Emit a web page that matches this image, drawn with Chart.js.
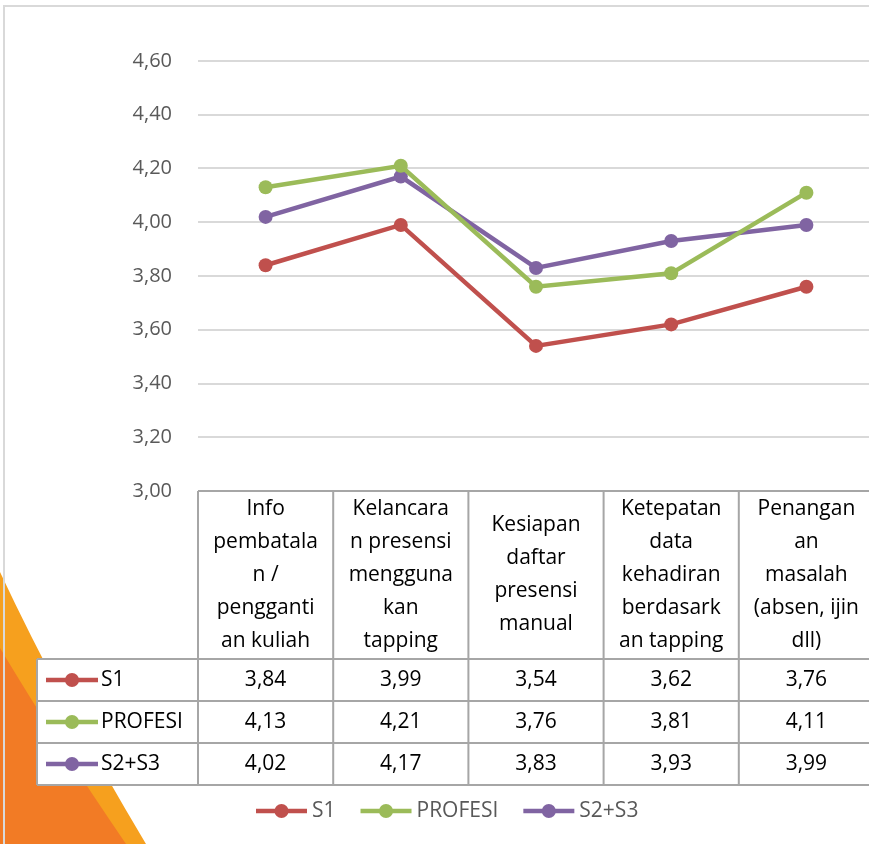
<!DOCTYPE html>
<html>
<head>
<meta charset="utf-8">
<script src="https://cdn.jsdelivr.net/npm/chart.js@4"></script>
<style>
    html, body { margin: 0; padding: 0; background: #fff; overflow: hidden; }
    #wrap { width: 869px; height: 844px; overflow: hidden; }
</style>
</head>
<body>
<div id="wrap"><canvas id="surveyChart" width="874" height="844"></canvas></div>
<script>
// kategori (baris-baris judul kolom tabel, seperti di gambar)
const categories = [
    ['Info', 'pembatala', 'n /', 'pengganti', 'an kuliah'],
    ['Kelancara', 'n presensi', 'mengguna', 'kan', 'tapping'],
    ['Kesiapan', 'daftar', 'presensi', 'manual'],
    ['Ketepatan', 'data', 'kehadiran', 'berdasark', 'an tapping'],
    ['Penangan', 'an', 'masalah', '(absen, ijin', 'dll)']
];
const seriesNames = ['S1', 'PROFESI', 'S2+S3'];
const s1Values = [3.84, 3.99, 3.54, 3.62, 3.76];
const profesiValues = [4.13, 4.21, 3.76, 3.81, 4.11];
const s2s3Values = [4.02, 4.17, 3.83, 3.93, 3.99];
const yTicks = [3.0, 3.2, 3.4, 3.6, 3.8, 4.0, 4.2, 4.4, 4.6];

const seriesColors = ['#C0504D', '#9BBB59', '#8064A2'];
const fmt = v => v.toFixed(2).replace('.', ',');

// latar: putih + hiasan oranye di kiri bawah + bingkai abu-abu
const backgroundPlugin = {
    id: 'background',
    beforeDraw(chart) {
        const ctx = chart.ctx;
        const h = chart.height;
        ctx.save();
        ctx.fillStyle = '#ffffff';
        ctx.fillRect(0, 0, chart.width, h);

        ctx.fillStyle = '#F6A01E';
        ctx.beginPath();
        ctx.moveTo(0, 572);
        ctx.quadraticCurveTo(60, 700, 146, h);
        ctx.lineTo(0, h);
        ctx.closePath();
        ctx.fill();

        ctx.fillStyle = '#F27B25';
        ctx.beginPath();
        ctx.moveTo(0, 648);
        ctx.quadraticCurveTo(55, 740, 126, h);
        ctx.lineTo(0, h);
        ctx.closePath();
        ctx.fill();

        ctx.strokeStyle = '#d9d9d9';
        ctx.lineWidth = 2;
        ctx.beginPath();
        ctx.moveTo(4, h + 5);
        ctx.lineTo(4, 6);
        ctx.lineTo(chart.width + 5, 6);
        ctx.stroke();
        ctx.restore();
    }
};

function drawLegendMark(ctx, x1, x2, y, color) {
    ctx.strokeStyle = color;
    ctx.lineWidth = 4.5;
    ctx.beginPath();
    ctx.moveTo(x1, y);
    ctx.lineTo(x2, y);
    ctx.stroke();
    ctx.fillStyle = color;
    ctx.beginPath();
    ctx.arc((x1 + x2) / 2, y, 7, 0, Math.PI * 2);
    ctx.fill();
}

// tabel data di bawah grafik + legenda bawah
const tablePlugin = {
    id: 'dataTable',
    afterDraw(chart) {
        const ctx = chart.ctx;
        const xs = chart.scales.x;
        const area = chart.chartArea;
        const colW = xs.width / categories.length;
        const top = area.bottom;
        const headerBottom = top + 168;
        const rowH = 42;
        const tableLeft = 37;
        const tableBottom = headerBottom + rowH * seriesNames.length;
        const allValues = [s1Values, profesiValues, s2s3Values];

        ctx.save();
        ctx.fillStyle = '#ffffff';
        ctx.fillRect(tableLeft, headerBottom, area.left - tableLeft, tableBottom - headerBottom);
        ctx.fillRect(area.left, top + 1, area.right - area.left, tableBottom - top);

        ctx.strokeStyle = '#a6a6a6';
        ctx.lineWidth = 2;
        ctx.beginPath();
        ctx.moveTo(area.left, top);
        ctx.lineTo(area.right, top);
        for (let r = 0; r <= seriesNames.length; r++) {
            const y = headerBottom + r * rowH;
            ctx.moveTo(tableLeft, y);
            ctx.lineTo(area.right, y);
        }
        ctx.moveTo(tableLeft, headerBottom);
        ctx.lineTo(tableLeft, tableBottom);
        for (let i = 0; i <= categories.length; i++) {
            const x = area.left + i * colW;
            ctx.moveTo(x, top);
            ctx.lineTo(x, tableBottom);
        }
        ctx.stroke();

        ctx.fillStyle = '#000000';
        ctx.font = "21px 'Open Sans'";
        ctx.textAlign = 'center';
        ctx.textBaseline = 'middle';
        const lineH = 33;
        categories.forEach((lines, i) => {
            const cx = xs.getPixelForValue(i);
            const midY = (top + headerBottom) / 2;
            const startY = midY - (lines.length - 1) * lineH / 2;
            lines.forEach((t, k) => ctx.fillText(t, cx, startY + k * lineH));
        });

        allValues.forEach((vals, r) => {
            const cy = headerBottom + r * rowH + rowH / 2;
            vals.forEach((v, i) => {
                ctx.fillStyle = '#000000';
                ctx.fillText(fmt(v), xs.getPixelForValue(i), cy);
            });
            drawLegendMark(ctx, 46, 98, cy, seriesColors[r]);
            ctx.fillStyle = '#000000';
            ctx.textAlign = 'left';
            ctx.fillText(seriesNames[r], 101, cy);
            ctx.textAlign = 'center';
        });

        // legenda bawah
        ctx.font = "21px 'Open Sans'";
        ctx.textAlign = 'left';
        const ly = 811;
        let x = 256;
        seriesNames.forEach((name, r) => {
            drawLegendMark(ctx, x, x + 51, ly, seriesColors[r]);
            ctx.fillStyle = '#595959';
            ctx.fillText(name, x + 56, ly);
            x += 56 + ctx.measureText(name).width + 25;
        });
        ctx.restore();
    }
};

const canvas = document.getElementById('surveyChart');
const datasetValues = [s1Values, profesiValues, s2s3Values];
new Chart(canvas, {
    type: 'line',
    data: {
        labels: categories.map(c => c.join(' ')),
        datasets: seriesNames.map((name, i) => ({
            label: name,
            data: datasetValues[i],
            borderColor: seriesColors[i],
            backgroundColor: seriesColors[i],
            borderWidth: 4.5,
            pointRadius: 7,
            pointHoverRadius: 7,
            pointBorderWidth: 0,
            tension: 0
        }))
    },
    options: {
        responsive: false,
        animation: false,
        layout: {
            autoPadding: false,
            padding: { top: 61, bottom: 353, left: 0, right: 0 }
        },
        plugins: {
            legend: { display: false },
            tooltip: { enabled: false }
        },
        scales: {
            x: {
                type: 'category',
                offset: true,
                display: false
            },
            y: {
                min: 3.0,
                max: 4.6,
                afterFit: function (scale) {
                    scale.width = 198;
                },
                afterBuildTicks: function (scale) {
                    scale.ticks = yTicks.map(v => ({ value: v }));
                },
                ticks: {
                    padding: 26,
                    color: '#595959',
                    font: { family: "'Open Sans'", size: 20 },
                    callback: function (value) {
                        return fmt(value);
                    }
                },
                grid: {
                    color: '#d9d9d9',
                    lineWidth: 2,
                    drawTicks: false
                },
                border: { display: false }
            }
        }
    },
    plugins: [backgroundPlugin, tablePlugin]
});
</script>
</body>
</html>
